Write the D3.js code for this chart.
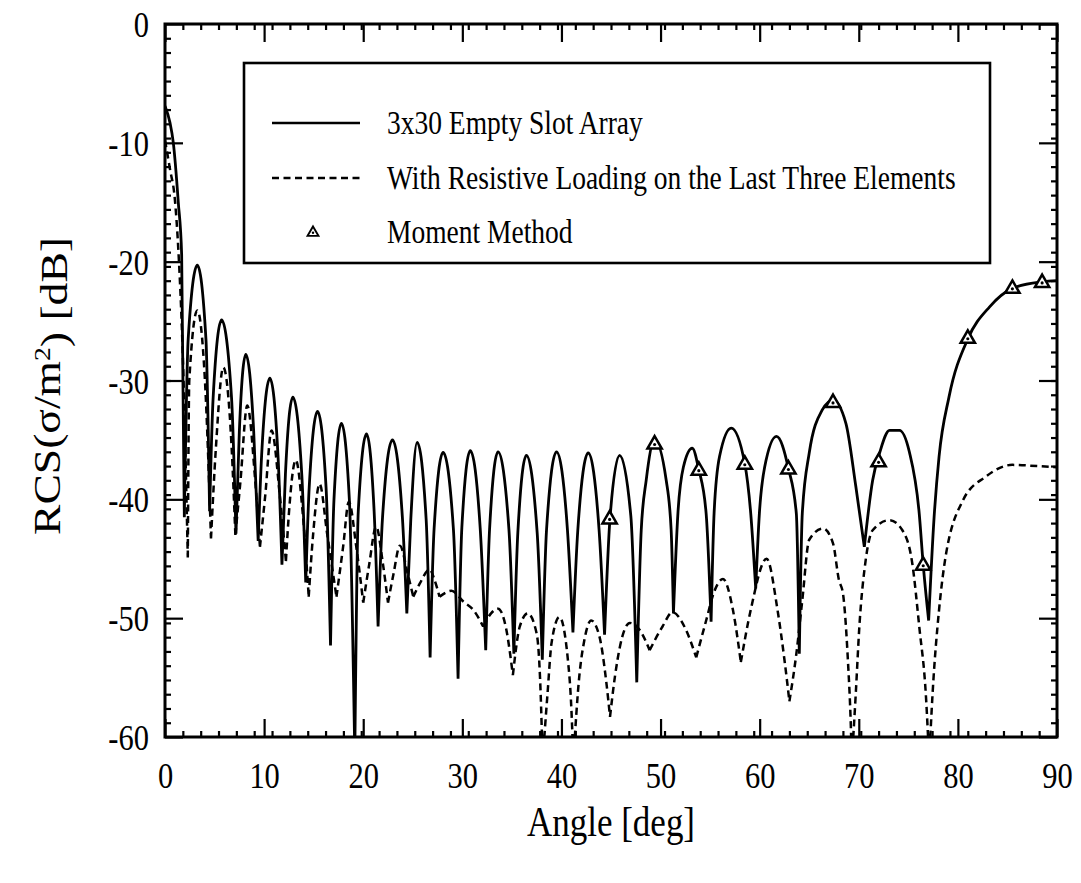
<!DOCTYPE html>
<html>
<head>
<meta charset="utf-8">
<script src="https://cdn.jsdelivr.net/npm/d3@7"></script>
<style>
  body { margin: 0; background: #fff; }
  svg text { font-family: "Liberation Serif", "Times New Roman", serif; fill: #000; }
</style>
</head>
<body>
<div id="container"></div>
<script>
// tick values
var angleTicks = [0, 10, 20, 30, 40, 50, 60, 70, 80, 90];
var rcsTicks = [0, -10, -20, -30, -40, -50, -60];
var angleMinorStep = 1.8;
var rcsMinorStep = 1.2;

var legendLabels = ["3x30 Empty Slot Array",
                    "With Resistive Loading on the Last Three Elements",
                    "Moment Method"];

// 3x30 empty slot array, [angle deg, RCS dB]
var emptyArray = [
  [0,-6.9],[0.5,-8.3],[0.84,-10.0],[1.34,-15.0],[1.68,-19.4],[1.95,-41.5],
  [2.34,-26.5],[3.26,-20.3],[4.13,-26.5],[4.5,-41.0],
  [4.86,-31.4],[5.71,-24.9],[6.71,-31.4],[7.16,-42.9],
  [7.5,-34.3],[8.15,-27.8],[8.95,-34.3],[9.4,-43.5],
  [9.75,-36.3],[10.58,-29.8],[11.4,-36.3],[11.8,-45.5],
  [12.15,-37.9],[12.9,-31.4],[13.8,-37.9],[14.2,-47.0],
  [14.55,-39.0],[15.39,-32.6],[16.25,-39.0],[16.7,-52.3],
  [17.05,-40.0],[17.8,-33.6],[18.6,-40.0],[19.15,-61.5],
  [19.5,-41.0],[20.33,-34.5],[21.1,-41.0],[21.5,-50.7],
  [21.95,-41.5],[22.95,-35.0],[23.95,-41.5],[24.4,-49.6],
  [24.8,-41.7],[25.44,-35.2],[26.35,-41.7],[26.75,-53.3],
  [27.15,-42.5],[28.06,-36.05],[29.1,-42.5],[29.57,-55.1],
  [29.95,-42.4],[30.8,-35.9],[31.8,-42.4],[32.36,-52.7],
  [32.75,-42.5],[33.6,-36.0],[34.7,-42.5],[35.2,-53.0],
  [35.6,-42.8],[36.46,-36.3],[37.55,-42.8],[38.07,-53.5],
  [38.5,-42.5],[39.5,-36.0],[40.6,-42.5],[41.16,-51.2],
  [41.65,-42.6],[42.7,-36.1],[43.8,-42.6],[44.35,-51.4],
  [44.9,-41.6],[45.87,-36.3],[47.0,-41.4],[47.6,-55.4],
  [48.05,-42.6],[48.55,-38.4],[49.4,-35.0],[50.57,-38.4],[51.07,-42.6],[51.3,-49.6],
  [51.75,-41.2],[52.3,-37.3],[53.2,-35.7],[53.86,-37.5],[54.6,-41.2],[55.1,-50.3],
  [55.4,-41.2],[55.95,-36.4],[57.13,-34.0],[58.5,-37.0],[59.1,-41.2],[59.6,-47.5],
  [59.97,-41.2],[60.5,-37.3],[61.7,-34.7],[62.9,-37.4],[63.7,-41.2],[64.0,-53.0],
  [64.3,-41.2],[65.0,-36.1],[66.3,-32.5],[67.4,-31.65],[68.7,-33.6],[69.7,-38.9],[70.56,-44.0],
  [71.4,-38.4],[72.1,-36.1],[73.1,-34.2],[74.1,-34.2],[75.1,-36.0],[76.1,-41.2],[76.5,-45.5],[77.05,-50.2],
  [77.6,-41.5],[78.1,-36.4],[79.1,-31.4],[81.0,-26.5],[83.2,-23.8],[85.5,-22.25],[88.5,-21.7],[90,-21.6]
];

// with resistive loading on the last three elements
var loadedArray = [
  [0,-9.8],[0.5,-12.2],[1.0,-14.8],[1.34,-18.9],[1.8,-28.0],[2.3,-44.9],
  [2.45,-30.0],[3.26,-24.1],[4.03,-30.0],[4.64,-43.3],
  [5.14,-35.6],[5.88,-28.9],[6.72,-35.6],[7.1,-43.0],
  [7.6,-38.6],[8.3,-32.1],[9.1,-38.4],[9.58,-44.0],
  [10.1,-39.8],[10.75,-34.2],[11.6,-39.8],[12.2,-45.2],
  [12.5,-41.2],[13.2,-36.7],[13.9,-41.2],[14.5,-48.2],
  [14.95,-42.9],[15.6,-38.7],[16.36,-42.9],[17.3,-48.2],
  [17.97,-44.0],[18.55,-40.2],[19.3,-44.0],[20.0,-48.7],
  [20.6,-45.5],[21.3,-42.3],[22.0,-45.5],[22.5,-48.7],
  [23.05,-46.3],[23.7,-43.9],[24.5,-46.3],[25.05,-48.2],
  [25.7,-47.1],[26.7,-45.9],[27.2,-46.8],[27.7,-48.2],
  [28.9,-47.7],[30.1,-48.6],[31.2,-49.4],[32.1,-50.7],
  [32.9,-49.6],[33.6,-49.2],[34.4,-50.8],[35.1,-54.8],
  [35.8,-50.7],[36.6,-49.6],[37.5,-51.3],[37.9,-56.3],[38.1,-62],
  [38.6,-56.3],[39.0,-52.1],[39.8,-49.9],[40.65,-53.5],[41.0,-57.6],[41.2,-62],
  [41.8,-54.9],[42.3,-51.9],[43.0,-50.2],[43.85,-51.6],[44.5,-55.2],[44.9,-58.3],
  [45.4,-54.9],[45.9,-52.4],[46.9,-50.4],[47.9,-51.0],[48.9,-52.7],
  [50.2,-50.7],[51.2,-49.5],[52.4,-50.7],[53.6,-53.3],
  [54.6,-50.2],[55.4,-47.8],[56.3,-46.7],[57.3,-49.3],[58.1,-53.7],
  [59.1,-49.3],[60.7,-45.0],[61.8,-49.3],[62.5,-53.5],[63.0,-57.0],
  [63.7,-53.0],[64.3,-48.5],[65.0,-43.4],[66.4,-42.45],[67.4,-43.7],[68.0,-46.8],[68.4,-47.9],[68.9,-53.5],[69.2,-59.1],[69.3,-62],
  [69.7,-56.3],[70.06,-50.7],[70.7,-45.1],[71.4,-42.6],[73.1,-41.75],[74.4,-42.6],[75.4,-45.4],[76.1,-50.7],[76.8,-56.9],[77.1,-62],
  [77.45,-56.3],[78.1,-49.3],[78.6,-45.7],[80.5,-40.1],[82.8,-38.1],[85.5,-37.1],[88.0,-37.2],[90,-37.3]
];

// moment method points
var momentAngle = [44.86, 49.4, 53.86, 58.5, 62.9, 67.4, 72.0, 76.5, 81.0, 85.5, 88.5];
var momentRcs   = [-41.6, -35.3, -37.5, -37.0, -37.4, -31.8, -36.8, -45.5, -26.4, -22.2, -21.7];

var svg = d3.select("div#container")
  .append("svg")
  .attr("width", 1081)
  .attr("height", 883);

var plotL = 165, plotR = 1057, plotT = 24, plotB = 737;
var tall = 1.2;   // the lettering in the original is drawn taller than wide

var x = d3.scaleLinear().domain([0, 90]).range([plotL, plotR]);
var y = d3.scaleLinear().domain([-60, 0]).range([plotB, plotT]);

svg.append("clipPath").attr("id", "plotClip")
  .append("rect")
  .attr("x", plotL).attr("y", plotT)
  .attr("width", plotR - plotL).attr("height", plotB - plotT);

///////////// ticks /////////////
var minorX = d3.range(angleMinorStep, 90 - 0.01, angleMinorStep);
var minorY = d3.range(-60 + rcsMinorStep, -0.01, rcsMinorStep);

function styleAxis(g) {
  g.select(".domain").remove();
  g.selectAll(".tick line").attr("stroke", "#000").attr("stroke-width", 2.2);
}

// major
svg.append("g").attr("transform", "translate(0," + plotB + ")")
  .call(d3.axisBottom(x).tickValues(angleTicks).tickSize(-18)
    .tickFormat(function(d) { return String(d); }))
  .call(styleAxis)
  .call(function(g) {
    g.selectAll(".tick text")
      .attr("y", 0).attr("dy", null)
      .attr("transform", "translate(0,51) scale(1," + tall + ")")
      .style("font-size", "30.5px");
  });
svg.append("g").attr("transform", "translate(0," + plotT + ")")
  .call(d3.axisTop(x).tickValues(angleTicks).tickSize(-18).tickFormat(""))
  .call(styleAxis);
svg.append("g").attr("transform", "translate(" + plotL + ",0)")
  .call(d3.axisLeft(y).tickValues(rcsTicks).tickSize(-18)
    .tickFormat(function(d) { return String(d); }))
  .call(styleAxis)
  .call(function(g) {
    g.selectAll(".tick text")
      .attr("x", 0).attr("dy", null)
      .attr("transform", "translate(-16,12.5) scale(1," + tall + ")")
      .style("font-size", "30.5px");
  });
svg.append("g").attr("transform", "translate(" + plotR + ",0)")
  .call(d3.axisRight(y).tickValues(rcsTicks).tickSize(-18).tickFormat(""))
  .call(styleAxis);

// minor
svg.append("g").attr("transform", "translate(0," + plotB + ")")
  .call(d3.axisBottom(x).tickValues(minorX).tickSize(-6).tickFormat(""))
  .call(styleAxis);
svg.append("g").attr("transform", "translate(0," + plotT + ")")
  .call(d3.axisTop(x).tickValues(minorX).tickSize(-6).tickFormat(""))
  .call(styleAxis);
svg.append("g").attr("transform", "translate(" + plotL + ",0)")
  .call(d3.axisLeft(y).tickValues(minorY).tickSize(-6).tickFormat(""))
  .call(styleAxis);
svg.append("g").attr("transform", "translate(" + plotR + ",0)")
  .call(d3.axisRight(y).tickValues(minorY).tickSize(-6).tickFormat(""))
  .call(styleAxis);

///////////// curves /////////////
// split at the nulls so each lobe is its own smooth piece and the nulls stay sharp
function lobePath(data) {
  var line = d3.line()
    .x(function(d) { return x(d[0]); })
    .y(function(d) { return y(d[1]); })
    .curve(d3.curveMonotoneX);
  var parts = [], start = 0;
  for (var i = 1; i < data.length - 1; i++) {
    if (data[i][1] < data[i-1][1] && data[i][1] < data[i+1][1]) {
      parts.push(data.slice(start, i + 1));
      start = i;
    }
  }
  parts.push(data.slice(start));
  return parts.map(function(p) { return line(p); }).join("");
}

var plot = svg.append("g").attr("clip-path", "url(#plotClip)");

plot.append("path")
  .attr("d", lobePath(loadedArray))
  .attr("fill", "none")
  .attr("stroke", "#000")
  .attr("stroke-width", 2.5)
  .attr("stroke-dasharray", "7,4.5");

plot.append("path")
  .attr("d", lobePath(emptyArray))
  .attr("fill", "none")
  .attr("stroke", "#000")
  .attr("stroke-width", 2.8)
  .attr("stroke-linejoin", "round");

function triangle(sel, s) {
  sel.append("path")
    .attr("d", "M0," + (-7 * s) + "L" + (6.8 * s) + "," + (4.8 * s) + "L" + (-6.8 * s) + "," + (4.8 * s) + "Z")
    .attr("fill", "#fff")
    .attr("stroke", "#000")
    .attr("stroke-width", 2.4 * s)
    .attr("stroke-linejoin", "miter");
  sel.append("circle")
    .attr("cx", 0).attr("cy", 1 * s).attr("r", 1.5 * s)
    .attr("fill", "#000");
}

svg.append("g").selectAll("g")
  .data(d3.zip(momentAngle, momentRcs))
  .enter().append("g")
  .attr("transform", function(d) { return "translate(" + x(d[0]) + "," + y(d[1]) + ")"; })
  .each(function() { triangle(d3.select(this), 1.05); });

// frame
svg.append("rect")
  .attr("x", plotL).attr("y", plotT)
  .attr("width", plotR - plotL).attr("height", plotB - plotT)
  .attr("fill", "none")
  .attr("stroke", "#000")
  .attr("stroke-width", 3);

///////////// legend /////////////
var legend = svg.append("g");
legend.append("rect")
  .attr("x", 244).attr("y", 63).attr("width", 746).attr("height", 200)
  .attr("fill", "#fff").attr("stroke", "#000").attr("stroke-width", 2.6);

var rowY = [123, 178, 232];
legend.append("line")
  .attr("x1", 272).attr("x2", 360).attr("y1", rowY[0]).attr("y2", rowY[0])
  .attr("stroke", "#000").attr("stroke-width", 2.6);
legend.append("line")
  .attr("x1", 272).attr("x2", 360).attr("y1", rowY[1]).attr("y2", rowY[1])
  .attr("stroke", "#000").attr("stroke-width", 2.4).attr("stroke-dasharray", "7,4.5");
triangle(legend.append("g").attr("transform", "translate(313," + rowY[2] + ")"), 0.8);

legend.selectAll("text.lab")
  .data(legendLabels)
  .enter().append("text")
  .attr("class", "lab")
  .attr("transform", function(d, i) { return "translate(387," + (rowY[i] + 11) + ") scale(1," + tall + ")"; })
  .style("font-size", "27.5px")
  .text(function(d) { return d; });

///////////// axis titles /////////////
svg.append("text")
  .attr("transform", "translate(611,836) scale(1," + tall + ")")
  .attr("text-anchor", "middle")
  .style("font-size", "35px")
  .text("Angle [deg]");

var yt = svg.append("text")
  .attr("transform", "translate(60,386) rotate(-90) scale(" + tall + ",1)")
  .attr("text-anchor", "middle")
  .style("font-size", "38px");
yt.append("tspan").text("RCS(σ/m");
yt.append("tspan").attr("dy", "-0.45em").style("font-size", "23px").text("2");
yt.append("tspan").attr("dy", "0.45em").text(") [dB]");
</script>
</body>
</html>
